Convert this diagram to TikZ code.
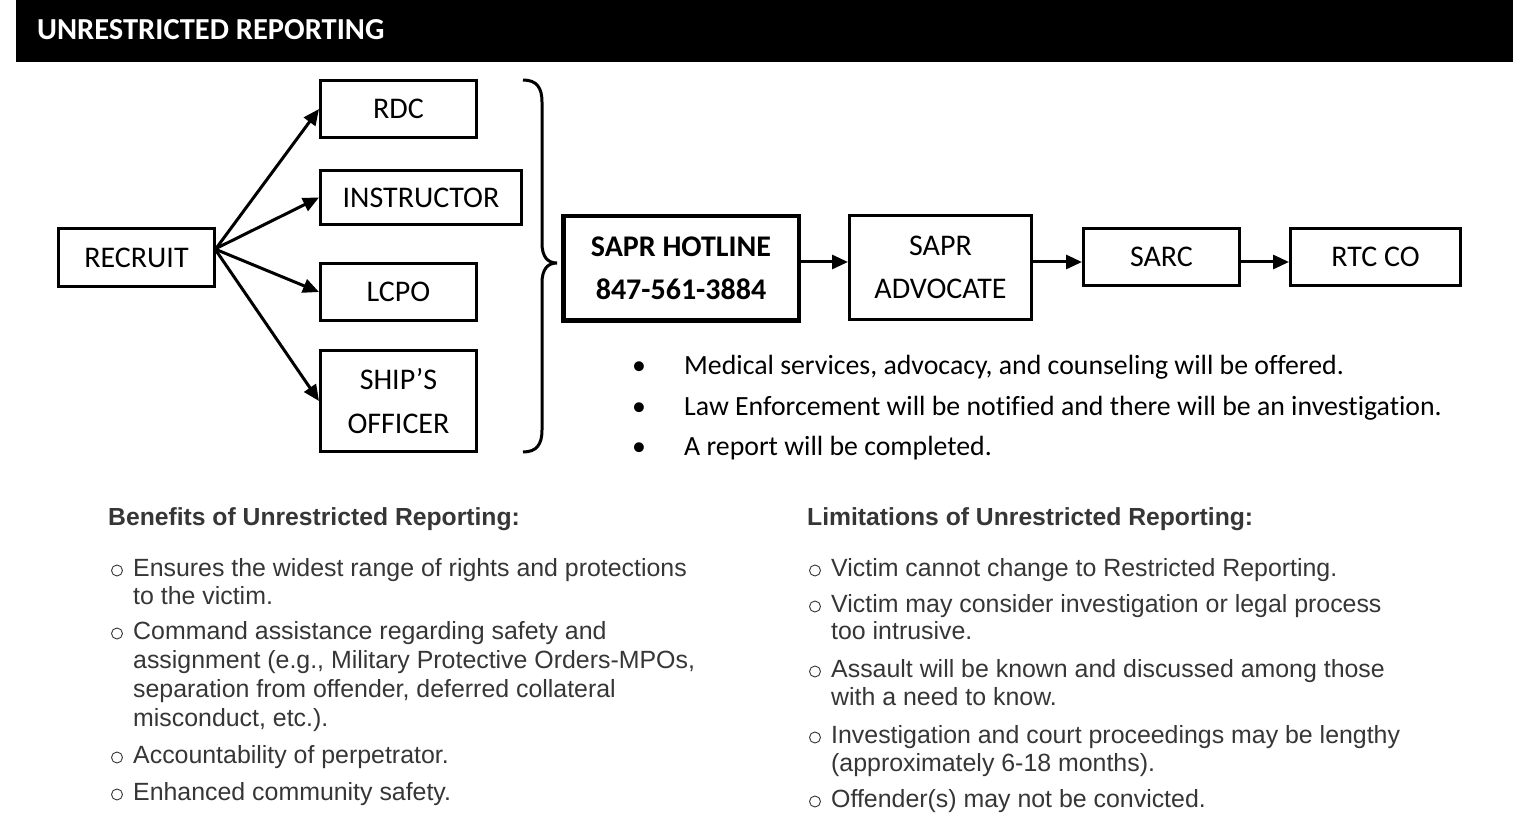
\documentclass[tikz,border=0pt]{standalone}
\usepackage{fontspec}
\setmainfont[Ligatures={NoCommon}]{Carlito}
\newfontfamily\armfont{Liberation Sans}
\usetikzlibrary{arrows.meta,calc}
\definecolor{bodygray}{HTML}{363636}

\begin{document}
\begin{tikzpicture}[x=1pt,y=-1pt,
  boxline/.style={draw,line width=3pt,inner sep=0pt,align=center,
    font=\fontsize{30}{43.5}\selectfont},
  flowarrow/.style={line width=3pt,-{Triangle[length=16pt,width=14pt]}},
  note/.style={anchor=base west,inner sep=0pt,font=\fontsize{27.8}{33}\selectfont},
  notedot/.style={anchor=base,inner sep=0pt,font=\fontsize{27.8}{33}\selectfont},
  listhead/.style={anchor=base west,inner sep=0pt,text=bodygray,
    font=\armfont\bfseries\fontsize{24.7}{29}\selectfont},
  listline/.style={anchor=base west,inner sep=0pt,text=bodygray,
    font=\armfont\fontsize{24.9}{29}\selectfont},
  listmark/.style={circle,draw=bodygray,line width=0.9pt,inner sep=0pt,minimum size=11pt},
]
\useasboundingbox (0,0) rectangle (1527,818);
\fill[white] (0,0) rectangle (1527,818);

% title bar
\fill[black] (16,0) rectangle (1513,62);
\node[anchor=base west,inner sep=0pt,text=white,
  font=\bfseries\fontsize{30.5}{36}\selectfont] (title) at (37,40) {UNRESTRICTED REPORTING};

% who the recruit can tell
\node[boxline,minimum width=156pt,minimum height=58pt] (recruit) at (136.5,257.5) {RECRUIT};
\node[boxline,minimum width=156pt,minimum height=57pt] (rdc) at (398.5,109) {RDC};
\node[boxline,minimum width=201pt,minimum height=54pt] (instructor) at (421,197.5) {INSTRUCTOR};
\node[boxline,minimum width=156pt,minimum height=57pt] (lcpo) at (398.5,292) {LCPO};
\node[boxline,minimum width=156pt,minimum height=101pt] (ships) at (398.5,401) {SHIP’S\\OFFICER};

\draw[flowarrow] ([yshift=9pt]recruit.east) -- (rdc.west);
\draw[flowarrow] ([yshift=9pt]recruit.east) -- (instructor.west);
\draw[flowarrow] ([yshift=8pt]recruit.east) -- (lcpo.west);
\draw[flowarrow] ([yshift=7pt]recruit.east) -- (ships.west);

% brace gathering the four contacts
\coordinate (bracetip) at (557,263);
\draw[line width=3pt] (523,80) .. controls (537,80) and (542,88) .. (542,102)
  -- (542,243) .. controls (542,256) and (547,263) .. (bracetip)
  .. controls (547,263) and (542,270) .. (542,283)
  -- (542,430) .. controls (542,444) and (537,452) .. (523,452);

% reporting chain
\node[boxline,line width=4.5pt,font=\bfseries\fontsize{30}{43.5}\selectfont,
  minimum width=235.5pt,minimum height=104.5pt] (hotline) at (681,268.5) {SAPR HOTLINE\\847-561-3884};
\node[boxline,minimum width=182pt,minimum height=104pt] (advocate) at (940.5,267.5) {SAPR\\ADVOCATE};
\node[boxline,minimum width=156pt,minimum height=57pt] (sarc) at (1161.5,257) {SARC};
\node[boxline,minimum width=170pt,minimum height=57pt] (rtcco) at (1375.5,257) {RTC CO};

\coordinate (flow) at (0,262);
\draw[flowarrow] (hotline.east |- flow) -- (advocate.west |- flow);
\draw[flowarrow] (advocate.east |- flow) -- (sarc.west |- flow);
\draw[flowarrow] (sarc.east |- flow) -- (rtcco.west |- flow);

% what follows a report
\node[notedot] (d1) at (639,374) {•};
\node[notedot] (d2) at (639,415) {•};
\node[notedot] (d3) at (639,455) {•};
\node[note] (n1) at (684,374) {Medical services, advocacy, and counseling will be offered.};
\node[note] (n2) at (684,415) {Law Enforcement will be notified and there will be an investigation.};
\node[note] (n3) at (684,455) {A report will be completed.};

% benefits
\node[listhead] (bh) at (108,525) {Benefits of Unrestricted Reporting:};
\node[listmark] (bm1) at (117,570.5) {};
\node[listline] (b1a) at (133,576) {Ensures the widest range of rights and protections};
\node[listline] (b1b) at (133,604) {to the victim.};
\node[listmark] (bm2) at (117,633.5) {};
\node[listline] (b2a) at (133,639) {Command assistance regarding safety and};
\node[listline] (b2b) at (133,668) {assignment (e.g., Military Protective Orders-MPOs,};
\node[listline] (b2c) at (133,697) {separation from offender, deferred collateral};
\node[listline] (b2d) at (133,726) {misconduct, etc.).};
\node[listmark] (bm3) at (117,757.5) {};
\node[listline] (b3a) at (133,763) {Accountability of perpetrator.};
\node[listmark] (bm4) at (117,794.5) {};
\node[listline] (b4a) at (133,800) {Enhanced community safety.};

% limitations
\node[listhead] (lh) at (807,525) {Limitations of Unrestricted Reporting:};
\node[listmark] (lm1) at (815,570.5) {};
\node[listline] (l1a) at (831,576) {Victim cannot change to Restricted Reporting.};
\node[listmark] (lm2) at (815,606.5) {};
\node[listline] (l2a) at (831,612) {Victim may consider investigation or legal process};
\node[listline] (l2b) at (831,639) {too intrusive.};
\node[listmark] (lm3) at (815,671.5) {};
\node[listline] (l3a) at (831,677) {Assault will be known and discussed among those};
\node[listline] (l3b) at (831,705) {with a need to know.};
\node[listmark] (lm4) at (815,737.5) {};
\node[listline] (l4a) at (831,743) {Investigation and court proceedings may be lengthy};
\node[listline] (l4b) at (831,771) {(approximately 6-18 months).};
\node[listmark] (lm5) at (815,801.5) {};
\node[listline] (l5a) at (831,807) {Offender(s) may not be convicted.};
\end{tikzpicture}
\end{document}
